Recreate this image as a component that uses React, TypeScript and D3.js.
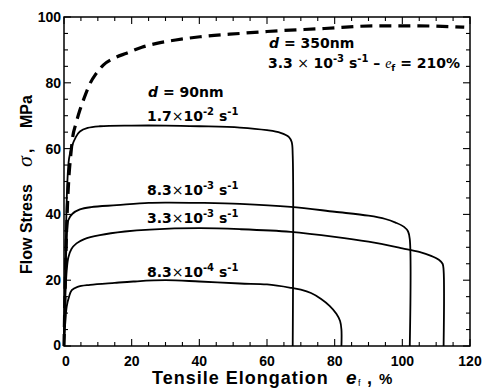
import { useEffect, useRef } from 'react'
import * as d3 from 'd3'

type Pt = [number, number]

// strain rate curves for d = 90nm  [elongation %, stress MPa]
const rate17e2: Pt[] = [[0, 0], [0.5, 30], [1, 50], [1.5, 57], [2.3, 60.6], [3.5, 63.5], [4.7, 65.2], [7, 66.3], [10.6, 66.8], [20, 67], [30, 67], [40, 66.8], [52, 66.4], [60, 65.6], [64, 64.8], [66.5, 63.5], [67.3, 62], [67.6, 58], [67.6, 0]]
const rate83e3: Pt[] = [[0, 0], [0.4, 20], [0.8, 32], [1.3, 38.3], [2.5, 40.2], [4.7, 41.5], [8, 42.2], [15.6, 42.8], [25, 43.5], [30.4, 43.6], [40, 43.5], [52, 43.2], [67, 42.3], [80, 40.8], [90, 39.6], [95, 38.6], [98, 37.5], [100.5, 36.2], [101.7, 34.8], [102.2, 32.5], [102.2, 0]]
const rate33e3: Pt[] = [[0, 0], [0.4, 15], [0.8, 23], [1.3, 27], [2.2, 29.5], [3.7, 31.2], [6, 32.5], [10.6, 33.7], [18, 34.8], [25.4, 35.4], [40, 35.8], [52, 35.5], [67, 34.7], [80, 33.2], [90, 31.7], [100, 29.7], [105, 28.6], [108.5, 27.4], [110.8, 26.2], [111.9, 25], [112.2, 23], [112.2, 0]]
const rate83e4: Pt[] = [[0, 0], [0.3, 6], [0.8, 12], [1.5, 15], [2.3, 17], [4, 18], [7.7, 18.6], [15, 19.2], [20.5, 19.6], [30, 20], [40, 19.6], [52, 19], [60, 18.7], [67, 17.7], [70, 17.1], [73, 16.1], [76, 14.3], [78.5, 12.2], [80.5, 9.8], [81.6, 7.6], [82, 5], [82, 0]]
// d = 350nm, 3.3e-3 s-1 (dashed)
const d350: Pt[] = [[0, 0], [0.5, 25], [1, 42], [1.5, 52], [2, 58], [2.5, 63], [3.5, 67.5], [4.7, 71.7], [6, 75.5], [7.7, 79.8], [9.5, 82.8], [11.6, 85.4], [15, 87.6], [18.5, 89], [23, 90.8], [27.4, 92], [33, 93], [40.2, 94], [52, 95], [60, 95.6], [77, 96.5], [92, 97.3], [105, 97.3], [118.3, 96.9]]

const xTicks = [0, 20, 40, 60, 80, 100, 120]
const yTicks = [0, 20, 40, 60, 80, 100]

const rateLabels = [
  { mant: '1.7', exp: '-2', x: 24.5, y: 68.5 },
  { mant: '8.3', exp: '-3', x: 24.5, y: 45.9 },
  { mant: '3.3', exp: '-3', x: 24.5, y: 37.4 },
  { mant: '8.3', exp: '-4', x: 24.5, y: 21.1 },
]

const FONT = '"Liberation Sans", Arial, Helvetica, sans-serif'
const WIDE = '"DejaVu Sans", sans-serif'
const SERIF = '"Liberation Serif", serif'

export default function App() {
  const ref = useRef<SVGSVGElement>(null)

  useEffect(() => {
    const svg = d3.select(ref.current)
    svg.selectAll('*').remove()

    const left = 64, right = 470, top = 17, bottom = 346
    const x = d3.scaleLinear().domain([0, 120]).range([left, right])
    const y = d3.scaleLinear().domain([0, 100]).range([bottom, top])

    const solid = d3.line<Pt>().x(d => x(d[0])).y(d => y(d[1])).curve(d3.curveCatmullRom.alpha(0.5))
    const smooth = d3.line<Pt>().x(d => x(d[0])).y(d => y(d[1])).curve(d3.curveMonotoneX)

    // frame
    svg.append('rect')
      .attr('x', left).attr('y', top)
      .attr('width', right - left).attr('height', bottom - top)
      .attr('fill', 'none').attr('stroke', '#000').attr('stroke-width', 1.5)

    // inward ticks on all four sides
    const ticks = svg.append('g').attr('stroke', '#000').attr('stroke-width', 1.1)
    d3.range(0, 121, 5).forEach(v => {
      const len = v % 20 === 0 ? 7 : 4
      ticks.append('line').attr('x1', x(v)).attr('x2', x(v)).attr('y1', bottom).attr('y2', bottom - len)
      ticks.append('line').attr('x1', x(v)).attr('x2', x(v)).attr('y1', top).attr('y2', top + len)
    })
    d3.range(0, 101, 5).forEach(v => {
      const len = v % 20 === 0 ? 7 : 4
      ticks.append('line').attr('x1', left).attr('x2', left + len).attr('y1', y(v)).attr('y2', y(v))
      ticks.append('line').attr('x1', right).attr('x2', right - len).attr('y1', y(v)).attr('y2', y(v))
    })

    // tick labels
    svg.append('g').selectAll('text').data(xTicks).enter().append('text')
      .attr('x', d => x(d) + (d === 0 ? 2 : 0)).attr('y', 366)
      .attr('text-anchor', 'middle')
      .style('font', `bold 14px ${FONT}`)
      .text(d => d)
    svg.append('g').selectAll('text').data(yTicks).enter().append('text')
      .attr('x', 61).attr('y', d => y(d) + 5 - (d === 0 ? 1 : 0))
      .attr('text-anchor', 'end')
      .style('font', `bold 14px ${FONT}`)
      .text(d => d)

    // curves
    const curves = svg.append('g').attr('fill', 'none').attr('stroke', '#000')
    ;[rate17e2, rate83e3, rate33e3, rate83e4].forEach(c => {
      curves.append('path').attr('d', solid(c)).attr('stroke-width', 1.8)
        .attr('stroke-linejoin', 'round')
    })
    curves.append('path').attr('d', smooth(d350))
      .attr('stroke-width', 3.2).attr('stroke-dasharray', '12 7')

    // rate labels
    rateLabels.forEach(l => {
      const t = svg.append('text').attr('x', x(l.x)).attr('y', y(l.y))
        .style('font', `bold 14px ${WIDE}`).style('white-space', 'pre')
      t.append('tspan').text(l.mant)
      t.append('tspan').style('font-weight', 'normal').text('×')
      t.append('tspan').text('10')
      t.append('tspan').attr('dy', -6).style('font-size', '10px').text(l.exp)
      t.append('tspan').attr('dy', 6).text(' s')
      t.append('tspan').attr('dy', -6).style('font-size', '10px').text('-1')
    })

    const d90 = svg.append('text').attr('x', 148).attr('y', 97)
      .style('font', `bold 14px ${WIDE}`).style('white-space', 'pre')
    d90.append('tspan').style('font-style', 'italic').text('d')
    d90.append('tspan').text(' = 90nm')

    const d35 = svg.append('text').attr('x', 269).attr('y', 48)
      .style('font', `bold 14px ${WIDE}`).style('white-space', 'pre')
    d35.append('tspan').style('font-style', 'italic').text('d')
    d35.append('tspan').text(' = 350nm')

    const r35 = svg.append('text').attr('x', 268).attr('y', 68)
      .style('font', `bold 14px ${WIDE}`).style('white-space', 'pre')
    r35.append('tspan').text('3.3')
    r35.append('tspan').style('font-weight', 'normal').text(' × ')
    r35.append('tspan').text('10')
    r35.append('tspan').attr('dy', -6).style('font-size', '10px').text('-3')
    r35.append('tspan').attr('dy', 6).text(' s')
    r35.append('tspan').attr('dy', -6).style('font-size', '10px').text('-1')
    r35.append('tspan').attr('dy', 6).text(' – ')
    r35.append('tspan').style('font-style', 'italic').style('font-weight', 'normal').style('font-family', SERIF).text('e')
    r35.append('tspan').attr('dy', 3).style('font-size', '9px').text('f')
    r35.append('tspan').attr('dy', -3).text(' = 210%')

    // axis titles
    svg.append('text').attr('x', 152).attr('y', 384)
      .style('font', `bold 18px ${FONT}`).style('letter-spacing', '1px')
      .text('Tensile Elongation')
    svg.append('text').attr('x', 346).attr('y', 384)
      .style('font', `italic bold 19px ${FONT}`).text('e')
    svg.append('text').attr('x', 358).attr('y', 386)
      .style('font', `9px ${FONT}`).text('f')
    svg.append('text').attr('x', 367).attr('y', 384)
      .style('font', `bold 18px ${FONT}`).text(',')
    svg.append('text').attr('x', 379).attr('y', 384)
      .style('font', `bold 15px ${FONT}`).text('%')

    const ytitle = (txt: string, at: number, font: string) =>
      svg.append('text').attr('transform', `translate(32,${at}) rotate(-90)`)
        .style('font', font).text(txt)
    ytitle('Flow Stress', 274, `bold 16px ${FONT}`)
    ytitle('σ', 167, `italic 22px ${SERIF}`)
    ytitle(',', 153, `bold 16px ${FONT}`)
    ytitle('MPa', 128, `bold 16px ${FONT}`)
  }, [])

  return (
    <svg ref={ref} width={484} height={389}
      style={{ position: 'absolute', left: 0, top: 0, background: '#fff' }} />
  )
}
